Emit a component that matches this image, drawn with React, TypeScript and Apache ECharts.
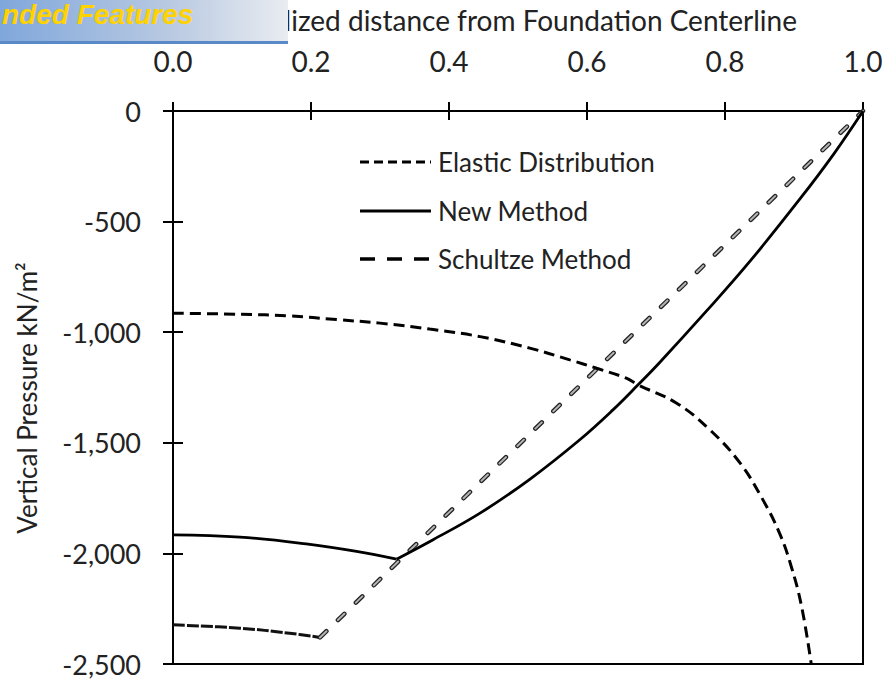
import React, { useEffect, useRef } from "react";
import * as echarts from "echarts";

// Normalized distance (x) and vertical pressure kN/m² (y)
const elasticX = [0, 0.097, 0.169, 0.237, 0.3, 0.372, 0.445, 0.517, 0.575, 0.614, 0.657, 0.674, 0.73, 0.778, 0.822, 0.855, 0.879, 0.896, 0.911, 0.925];
const elasticY = [-914, -919, -926, -943, -959, -986, -1020, -1072, -1125, -1163, -1208, -1238, -1321, -1441, -1592, -1758, -1908, -2059, -2240, -2500];

const newFlatX = [0, 0.097, 0.193, 0.266, 0.324];
const newFlatY = [-1916, -1926, -1957, -1991, -2026];
const newRiseX = [0.324, 0.377, 0.445, 0.517, 0.59, 0.638, 0.674, 0.705, 0.773, 0.836, 0.908, 0.957, 1.0];
const newRiseY = [-2026, -1938, -1818, -1665, -1485, -1350, -1238, -1138, -905, -680, -400, -197, 0];

const schultzeFlatX = [0, 0.097, 0.169, 0.213];
const schultzeFlatY = [-2323, -2338, -2361, -2380];
const schultzeRiseX = [0.213, 1.0];
const schultzeRiseY = [-2380, 0];

const xTicks = { min: 0, max: 1, interval: 0.2 };
const yTicks = { min: -2500, max: 0, interval: 500 };

const legendNames = ["Elastic Distribution", "New Method", "Schultze Method"];
const xTitle = "Normalized distance from Foundation Centerline";
const yTitle = "Vertical Pressure kN/m²";
const bannerText = "nded Features";

const pairs = (xs: number[], ys: number[]) => xs.map((x, i) => [x, ys[i]]);

const FONT = "Lato, 'Open Sans', sans-serif";

export default function App() {
  const ref = useRef<HTMLDivElement>(null);
  useEffect(() => {
    if (!ref.current) return;
    const chart = echarts.init(ref.current, undefined, { renderer: "svg" });
    const axisCommonX = {
      type: "value",
      position: "top",
      min: xTicks.min,
      max: xTicks.max,
      interval: xTicks.interval,
      splitLine: { show: false },
    };
    const axisCommonY = {
      type: "value",
      position: "left",
      min: yTicks.min,
      max: yTicks.max,
      interval: yTicks.interval,
      splitLine: { show: false },
    };
    const black = "#000";
    const option: any = {
      animation: false,
      backgroundColor: "#fff",
      grid: {
        left: 173,
        right: 27,
        top: 111,
        bottom: 17,
        show: true,
        borderColor: black,
        borderWidth: 2,
        containLabel: false,
      },
      xAxis: [
        {
          ...axisCommonX,
          axisLine: { show: true, lineStyle: { color: black, width: 2 } },
          axisTick: { show: true, length: 9, lineStyle: { color: black, width: 2 } },
          axisLabel: {
            margin: 36,
            fontSize: 28,
            fontFamily: FONT,
            color: "#222",
            formatter: (v: number) => v.toFixed(1),
          },
        },
        {
          ...axisCommonX,
          axisLine: { show: false },
          axisTick: { show: true, inside: true, length: 9, lineStyle: { color: black, width: 2 } },
          axisLabel: { show: false },
        },
      ],
      yAxis: [
        {
          ...axisCommonY,
          axisLine: { show: true, lineStyle: { color: black, width: 2 } },
          axisTick: { show: true, length: 10, lineStyle: { color: black, width: 2 } },
          axisLabel: {
            margin: 32,
            fontSize: 27,
            fontFamily: FONT,
            color: "#222",
            formatter: (v: number) => v.toLocaleString("en-US"),
          },
        },
        {
          ...axisCommonY,
          axisLine: { show: false },
          axisTick: { show: true, inside: true, length: 10, lineStyle: { color: black, width: 2 } },
          axisLabel: { show: false },
        },
      ],
      series: [
        {
          name: legendNames[0],
          type: "line",
          data: pairs(elasticX, elasticY),
          smooth: 0.4,
          showSymbol: false,
          lineStyle: { color: black, width: 3, type: [11, 6] },
          z: 3,
        },
        {
          name: legendNames[1],
          type: "line",
          data: pairs(newFlatX, newFlatY),
          smooth: 0.4,
          showSymbol: false,
          lineStyle: { color: black, width: 2.8 },
          z: 3,
        },
        {
          name: legendNames[1],
          type: "line",
          data: pairs(newRiseX, newRiseY),
          smooth: 0.4,
          showSymbol: false,
          lineStyle: { color: black, width: 2.8 },
          z: 3,
        },
        {
          name: legendNames[2],
          type: "line",
          data: pairs(schultzeFlatX, schultzeFlatY),
          smooth: 0.4,
          showSymbol: false,
          lineStyle: { color: "#111", width: 3, type: [12, 2] },
          z: 2,
        },
        {
          name: legendNames[2],
          type: "line",
          data: pairs(schultzeRiseX, schultzeRiseY),
          showSymbol: false,
          lineStyle: { color: "#222", width: 4.5, type: [9, 16], cap: "round" },
          z: 2,
        },
        {
          name: legendNames[2] + " inner",
          type: "line",
          data: pairs(schultzeRiseX, schultzeRiseY),
          showSymbol: false,
          lineStyle: { color: "#b4b4b4", width: 2, type: [9, 16], cap: "round" },
          z: 2,
        },
      ],
      graphic: [
        // legend
        {
          type: "line",
          shape: { x1: 360, y1: 162, x2: 431, y2: 162 },
          style: { stroke: black, lineWidth: 3, lineDash: [9, 5] },
        },
        {
          type: "line",
          shape: { x1: 360, y1: 211, x2: 431, y2: 211 },
          style: { stroke: black, lineWidth: 3 },
        },
        {
          type: "line",
          shape: { x1: 360, y1: 259, x2: 430, y2: 259 },
          style: { stroke: black, lineWidth: 3.5, lineDash: [15, 12] },
        },
        {
          type: "text",
          x: 438,
          y: 162,
          style: { text: legendNames[0], fontSize: 26, fontFamily: FONT, fill: "#222", align: "left", verticalAlign: "middle" },
        },
        {
          type: "text",
          x: 438,
          y: 211,
          style: { text: legendNames[1], fontSize: 26, fontFamily: FONT, fill: "#222", align: "left", verticalAlign: "middle" },
        },
        {
          type: "text",
          x: 438,
          y: 259,
          style: { text: legendNames[2], fontSize: 26, fontFamily: FONT, fill: "#222", align: "left", verticalAlign: "middle" },
        },
        // axis titles
        {
          type: "text",
          x: 797,
          y: 20,
          style: { text: xTitle, fontSize: 28, fontFamily: FONT, fill: "#222", align: "right", verticalAlign: "middle" },
        },
        {
          type: "text",
          x: 27,
          y: 398,
          rotation: Math.PI / 2,
          style: { text: yTitle, fontSize: 26, fontFamily: FONT, fill: "#222", align: "center", verticalAlign: "middle" },
        },
        // banner
        {
          type: "rect",
          shape: { x: 0, y: 0, width: 288, height: 42 },
          style: {
            fill: new echarts.graphic.LinearGradient(0, 0, 1, 0, [
              { offset: 0, color: "#80a7db" },
              { offset: 0.6, color: "#bacae2" },
              { offset: 1, color: "#e9ecf1" },
            ]),
          },
          z: 10,
        },
        {
          type: "rect",
          shape: { x: 0, y: 41, width: 288, height: 3 },
          style: { fill: "#5a89c8" },
          z: 10,
        },
        {
          type: "text",
          x: 2,
          y: 14,
          style: {
            text: bannerText,
            fontSize: 28,
            fontWeight: "bold",
            fontStyle: "italic",
            fontFamily: "'Liberation Sans', Arial, sans-serif",
            fill: "#ffd200",
            align: "left",
            verticalAlign: "middle",
          },
          z: 11,
        },
      ],
    };
    chart.setOption(option);
    return () => chart.dispose();
  }, []);
  return (
    <div
      ref={ref}
      style={{ position: "absolute", left: 0, top: 0, width: 890, height: 681 }}
    />
  );
}
